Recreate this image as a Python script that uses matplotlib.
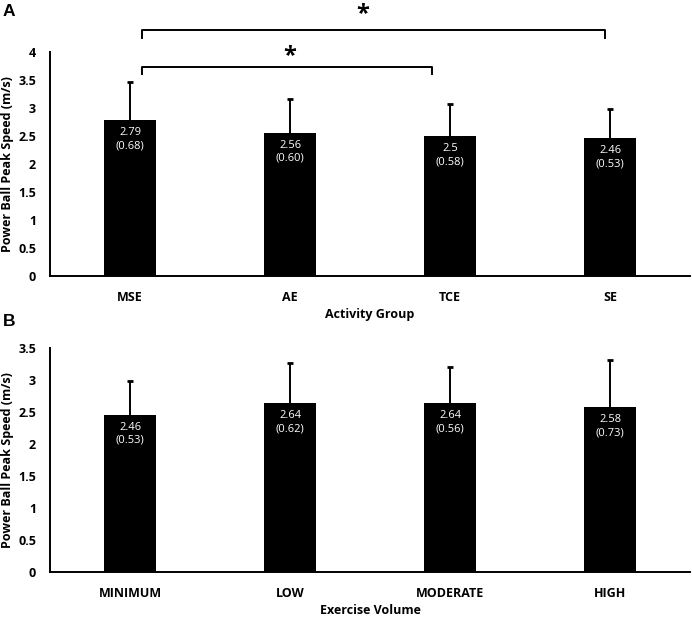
import matplotlib
matplotlib.use("Agg")
from matplotlib import pyplot as plt

plt.rcParams['font.family'] = ['Open Sans', 'DejaVu Sans']

# panel A data
groups = ["MSE", "AE", "TCE", "SE"]
group_means = [2.79, 2.56, 2.5, 2.46]
group_sds = [0.68, 0.60, 0.58, 0.53]
group_labels = ["2.79\n(0.68)", "2.56\n(0.60)", "2.5\n(0.58)", "2.46\n(0.53)"]

# panel B data
volumes = ["MINIMUM", "LOW", "MODERATE", "HIGH"]
volume_means = [2.46, 2.64, 2.64, 2.58]
volume_sds = [0.53, 0.62, 0.56, 0.73]
volume_labels = ["2.46\n(0.53)", "2.64\n(0.62)", "2.64\n(0.56)", "2.58\n(0.73)"]

W, H = 692, 617
fig = plt.figure(figsize=(W / 100, H / 100), dpi=100)


def panel(rect, cats, means, sds, labels, ymax, xlabel):
    ax = fig.add_axes(rect)
    x = list(range(len(cats)))
    tops = [m + s for m, s in zip(means, sds)]
    ax.bar(x, means, width=0.325, color="black", zorder=2)
    # upper error bars only
    ax.vlines(x, means, tops, color="black", lw=1.4, zorder=1)
    ax.plot(x, tops, ls="none", marker="_", ms=4, mew=2, color="black")
    for xi, m, lab in zip(x, means, labels):
        ax.annotate(lab, (xi, m), xytext=(0, -5), textcoords="offset points",
                    ha="center", va="top", color="white", fontsize=8,
                    linespacing=1.3)
    ax.set_xlim(-0.5, len(cats) - 0.5)
    ax.set_ylim(0, ymax)
    ax.set_yticks([i * 0.5 for i in range(int(ymax * 2) + 1)])
    ax.set_yticklabels(["%g" % (i * 0.5) for i in range(int(ymax * 2) + 1)])
    ax.set_xticks(x)
    ax.set_xticklabels(cats)
    ax.tick_params(axis="both", length=0, labelsize=9)
    ax.tick_params(axis="x", pad=11)
    ax.tick_params(axis="y", pad=10)
    for t in ax.get_xticklabels() + ax.get_yticklabels():
        t.set_fontweight("bold")
    for s in ["top", "right"]:
        ax.spines[s].set_visible(False)
    for s in ["left", "bottom"]:
        ax.spines[s].set_linewidth(1.4)
    ax.set_xlabel(xlabel, fontsize=9, fontweight="bold", labelpad=3)
    ax.set_ylabel("Power Ball Peak Speed (m/s)", fontsize=9, fontweight="bold", labelpad=3)
    return ax


axA = panel([50 / W, (H - 276) / H, 640 / W, 224 / H], groups, group_means, group_sds,
            group_labels, 4, "Activity Group")
axB = panel([50 / W, (H - 572) / H, 640 / W, 224 / H], volumes, volume_means, volume_sds,
            volume_labels, 3.5, "Exercise Volume")


# significance brackets on panel A
def bracket(ax, x0, x1, y, drop, star_x, star_y):
    ax.plot([x0, x0, x1, x1], [y - drop, y, y, y - drop], color="black", lw=1.4,
            clip_on=False)
    ax.text(star_x, star_y, "*", ha="center", va="center", fontsize=17,
            fontweight="bold", clip_on=False)


bracket(axA, 0.075, 2.97, 4.39, 0.14, 1.456, 4.68)
bracket(axA, 0.075, 1.89, 3.73, 0.12, 1.0, 3.93)

fig.text(3 / W, 1 - 12 / H, "A", fontsize=12.5, fontweight="bold", va="center",
         family="Liberation Sans")
fig.text(3 / W, 1 - 321 / H, "B", fontsize=12.5, fontweight="bold", va="center",
         family="Liberation Sans")

fig.savefig("out.png", dpi=100)
